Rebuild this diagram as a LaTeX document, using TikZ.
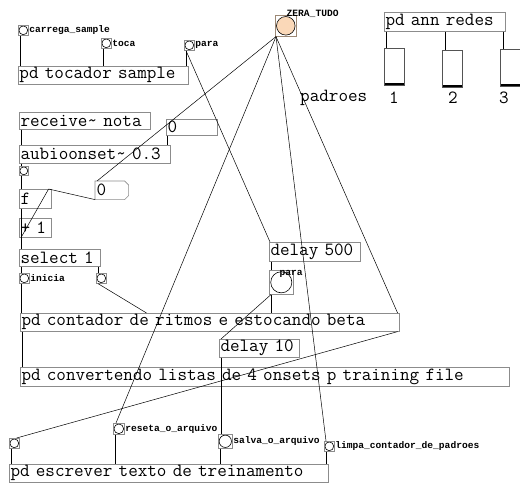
\documentclass[tikz,border=0pt]{standalone}
\usepackage{fontspec}
\usepackage{xcolor}
\usetikzlibrary{calc}
\newfontfamily\pdfont{Liberation Mono}
\newcommand\pdbig{\ttfamily\fontsize{18.6}{19}\selectfont\addfontfeature{FakeBold=1.2}}
\definecolor{boxgray}{gray}{0.55}
\definecolor{zerapeach}{RGB}{250,216,184}
\tikzset{
  pdobj/.style={draw=boxgray, line width=.6pt, anchor=north west,
    inner xsep=1.2pt, inner ysep=0pt, minimum height=18, text width=#1,
    font=\pdbig,
    execute at begin node=\hbox\bgroup, execute at end node=\egroup},
  pdbng/.style={draw=boxgray, line width=.6pt, anchor=north west,
    inner sep=0pt, minimum size=#1,
    path picture={\draw[black, line width=.6pt]
      (path picture bounding box.center) circle ({0.44*#1pt});}},
  pdsld/.style={draw=boxgray!60!black, line width=.6pt, anchor=north west,
    inner sep=0pt, minimum width=20, minimum height=37,
    path picture={\fill[black] (path picture bounding box.south west)
      rectangle ([yshift=2.5pt]path picture bounding box.south east);}},
  pdlbl/.style={font=\pdfont\bfseries\fontsize{9.6}{10}\selectfont,
    inner sep=0.5pt},
  pdtxt/.style={font=\pdbig, inner sep=0pt},
  pdwire/.style={line width=.5pt, black}
}
\begin{document}
\begin{tikzpicture}[x=1pt, y=-1pt]
\fill [white] (0,0) rectangle (520,483);
\useasboundingbox (0,0) rectangle (520,483);

\node [pdbng=10, label={[pdlbl]east:carrega\_sample}] (cs)
       at (18,25) {};
\node [pdbng=10, label={[pdlbl]east:toca}] (toca)
       at (101,38) {};
\node [pdbng=10, label={[pdlbl]east:para}] (parab)
       at (184,40) {};
\node [pdobj=168pt] (tocador)
       at (18,66) {pd tocador sample};

\node [pdbng=21, draw=boxgray!70!brown,
       path picture={\fill[zerapeach, draw=black, line width=.6pt]
         (path picture bounding box.center) circle (9.3pt);}] (zera)
       at (275,15) {};
\node [pdlbl, anchor=west] (zeralbl)
       at (286,14) {ZERA\_TUDO};

\node [pdobj=118.6pt, minimum height=19] (ann)
       at (384,12) {pd ann redes};
\node [pdsld] (s1) at (384,48) {};
\node [pdsld] (s2) at (442,50) {};
\node [pdsld] (s3) at (500,49) {};
\node [pdtxt, anchor=west] (padroes) at (300,98) {padroes};
\node [pdtxt] (n1) at (394,98) {1};
\node [pdtxt] (n2) at (453,98) {2};
\node [pdtxt] (n3) at (504,98) {3};

\node [pdobj=128.6pt, minimum height=17] (recv)
       at (19,112) {receive\textasciitilde{} nota};
\node [pdobj=48.6pt, minimum height=16] (num1)
       at (166,119) {0};
\node [pdobj=148.6pt] (aubio)
       at (19,145) {aubioonset\textasciitilde{} 0.3};
\node [pdbng=9] (ab)
       at (19,166) {};
\node [pdobj=30.6pt, draw=none] (num2)
       at (95,181) {0};
\draw [boxgray, line width=.6pt] (num2.north west)
  -- ([xshift=-4pt]num2.north east) -- ([yshift=-4pt]num2.north east)
  -- ([yshift=4pt]num2.south east) -- ([xshift=-4pt]num2.south east)
  -- (num2.south west) -- cycle;
\node [pdobj=29.6pt, minimum height=19] (f)
       at (19,189) {f};
\node [pdobj=29.6pt, minimum height=19] (plus)
       at (19,218) {+ 1};
\node [pdobj=78.6pt, minimum height=17] (sel)
       at (19,249) {select 1};
\node [pdbng=10, label={[pdlbl]east:inicia}] (ini)
       at (19,273) {};
\node [pdbng=10] (selr)
       at (96,273) {};

\node [pdobj=88.6pt, minimum height=19] (d500)
       at (269,242) {delay 500};
\node [pdbng=24] (parabig)
       at (269,270) {};
\node [pdlbl, anchor=west] (parabiglbl)
       at (279,274) {para};

\node [pdobj=376.6pt] (cont)
       at (20,313) {pd contador de ritmos e estocando beta};
\node [pdobj=77.6pt] (d10)
       at (219,339) {delay 10};
\node [pdobj=486.6pt, minimum height=19] (conv)
       at (20,367) {pd convertendo listas de 4 onsets p training file};

\node [pdbng=10] (bl)
       at (9,438) {};
\node [pdbng=11, label={[pdlbl]east:reseta\_o\_arquivo}] (reseta)
       at (113,423) {};
\node [pdbng=14, label={[pdlbl]east:salva\_o\_arquivo}] (salva)
       at (218,434) {};
\node [pdbng=10, label={[pdlbl]east:limpa\_contador\_de\_padroes}] (limpa)
       at (324,441) {};
\node [pdobj=316.6pt] (escr)
       at (9,464) {pd escrever texto de treinamento};

\draw [pdwire] ([xshift=2pt]cs.south west) -- ([xshift=2pt]cs.south west |- tocador.north);
\draw [pdwire] ([xshift=2pt]toca.south west) -- ([xshift=2pt]toca.south west |- tocador.north);
\draw [pdwire] ([xshift=2pt]parab.south west) -- ([xshift=2pt]parab.south west |- tocador.north);
\draw [pdwire] ([xshift=2pt]parab.south west) -- ([xshift=1pt]d500.north west);

\draw [pdwire] ([xshift=2pt]ann.south west) -- ([xshift=2pt]ann.south west |- s1.north);
\draw [pdwire] (ann.south) -- (ann.south |- s2.north);
\draw [pdwire] ([xshift=-2pt]ann.south east) -- ([xshift=-2pt]ann.south east |- s3.north);

\draw [pdwire] ([xshift=1pt]zera.south west) -- ([xshift=2pt]num2.north west);
\draw [pdwire] ([xshift=1pt]zera.south west) -- ([xshift=3pt]reseta.north west);
\draw [pdwire] ([xshift=1pt]zera.south west) -- ([xshift=2pt]limpa.north west);
\draw [pdwire] ([xshift=1pt]zera.south west) -- ([xshift=-2pt]cont.north east);

\draw [pdwire] ([xshift=2pt]recv.south west) -- ([xshift=2pt]recv.south west |- aubio.north);
\draw [pdwire] ([xshift=1.5pt]num1.south west) -- ([xshift=1.5pt]num1.south west |- aubio.north);
\draw [pdwire] ([xshift=2pt]aubio.south west) -- ([xshift=2pt]aubio.south west |- ab.north);
\draw [pdwire] ([xshift=2pt]ab.south west) -- ([xshift=2pt]ab.south west |- f.north);
\draw [pdwire] ([xshift=2pt]f.south west) -- ([xshift=2pt]f.south west |- sel.north);
\draw [pdwire] ([xshift=2pt]plus.south west) -- ([xshift=-3pt]f.north east);
\draw [pdwire] (num2.south west) -- ([xshift=-3pt]f.north east);
\draw [pdwire] ([xshift=2pt]sel.south west) -- ([xshift=2pt]sel.south west |- ini.north);
\draw [pdwire] ([xshift=-2pt]sel.south east) -- ([xshift=-2pt]sel.south east |- selr.north);
\draw [pdwire] ([xshift=2pt]ini.south west) -- ([xshift=2pt]ini.south west |- cont.north);
\draw [pdwire] ([xshift=2pt]selr.south west) -- ($(cont.north west)!1/3!(cont.north east)$);

\draw [pdwire] ([xshift=2pt]d500.south west) -- ([xshift=2pt]d500.south west |- parabig.north);
\draw [pdwire] ([xshift=2pt]parabig.south west) -- ([xshift=2pt]parabig.south west |- cont.north);
\draw [pdwire] ([xshift=2pt]parabig.south west) -- ([xshift=2pt]d10.north west);

\draw [pdwire] ([xshift=2pt]cont.south west) -- ([xshift=2pt]cont.south west |- conv.north);
\draw [pdwire] ([xshift=-2pt]cont.south east) -- ([xshift=-3pt]bl.north east);
\draw [pdwire] ([xshift=2pt]d10.south west) -- ([xshift=2pt]d10.south west |- salva.north);

\draw [pdwire] ([xshift=2pt]bl.south west) -- ([xshift=2pt]bl.south west |- escr.north);
\draw [pdwire] ([xshift=2pt]reseta.south west) -- ([xshift=2pt]reseta.south west |- escr.north);
\draw [pdwire] ([xshift=2pt]salva.south west) -- ([xshift=2pt]salva.south west |- escr.north);
\draw [pdwire] ([xshift=2pt]limpa.south west) -- ([xshift=2pt]limpa.south west |- escr.north);
\end{tikzpicture}
\end{document}
